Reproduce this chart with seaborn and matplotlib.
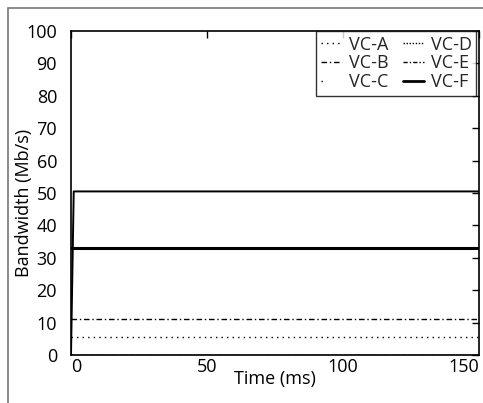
import matplotlib
matplotlib.use("Agg")
import matplotlib.pyplot as plt
from matplotlib.lines import Line2D
from matplotlib.patches import Rectangle
import seaborn as sns
import pandas as pd

# ---- data ----
time_ms = [0, 1, 150]
vc_a = [5.5, 5.5, 5.5]
vc_b = [11, 11, 11]
vc_c = [0, 50.5, 50.5]
vc_d = [0, 0, 0]
vc_e = [0, 0, 0]
vc_f = [33, 33, 33]
series_names = ["VC-A", "VC-B", "VC-C", "VC-D", "VC-E", "VC-F"]
x_ticks = [0, 50, 100, 150]
y_ticks = [0, 10, 20, 30, 40, 50, 60, 70, 80, 90, 100]

sns.set_theme(style="white")
plt.rcParams["font.family"] = ["Open Sans", "DejaVu Sans"]

fig = plt.figure(figsize=(4.83, 4.03), dpi=100)
ax = fig.add_axes([0.147, 0.119, 0.845, 0.804])

values = [vc_a, vc_b, vc_c, vc_d, vc_e, vc_f]
styles = {
    "VC-A": dict(ls=(0, (1, 3)), lw=1.0),
    "VC-B": dict(ls=(0, (4, 2, 1, 2)), lw=1.0),
    "VC-C": dict(ls="-", lw=1.4),
    "VC-D": dict(ls=(0, (1, 1.2)), lw=1.0),
    "VC-E": dict(ls=(0, (3, 1.5, 1, 1.5)), lw=1.0),
    "VC-F": dict(ls="-", lw=2.2),
}
for name, vals in zip(series_names, values):
    df = pd.DataFrame({"t": time_ms, "bw": vals})
    sns.lineplot(data=df, x="t", y="bw", ax=ax, color="black",
                 linestyle=styles[name]["ls"], linewidth=styles[name]["lw"],
                 legend=False)

ax.set_xlim(0, 150)
ax.set_ylim(0, 100)
ax.set_xticks(x_ticks)
ax.set_yticks(y_ticks)
ax.tick_params(direction="in", length=5, width=1.0, color="black",
               top=True, right=True, labelsize=13, labelcolor="black")
ax.tick_params(axis="y", pad=10)
ax.tick_params(axis="x", pad=2)
for s in ax.spines.values():
    s.set_color("black")
    s.set_linewidth(1.2)

xt = ax.get_xticklabels()
xt[0].set_horizontalalignment("left")
xt[-1].set_horizontalalignment("right")

ax.set_xlabel("Time (ms)", fontsize=13, color="black")
ax.set_ylabel("Bandwidth (Mb/s)", fontsize=13, color="black")
ax.xaxis.set_label_coords(0.5, -0.045)
ax.yaxis.set_label_coords(-0.093, 0.47)

# legend handles mimic the reference key
legend_styles = {
    "VC-A": (0, (1, 3)),
    "VC-B": (0, (4, 2, 1, 2)),
    "VC-C": (0, (1, 40)),
    "VC-D": (0, (1, 1.2)),
    "VC-E": (0, (3, 1.5, 1, 1.5)),
    "VC-F": "-",
}
handles = [Line2D([], [], color="black", linestyle=legend_styles[n],
                  linewidth=(2.0 if n == "VC-F" else 1.0)) for n in series_names]
leg = ax.legend(handles, series_names, loc="upper right", ncol=2,
                fontsize=13, frameon=True, fancybox=False, edgecolor="black",
                handlelength=1.2, handletextpad=0.35, columnspacing=0.8,
                labelspacing=0.05, borderpad=0.25, borderaxespad=0.0,
                bbox_to_anchor=(0.993, 1.0))
leg.get_frame().set_linewidth(1.0)

fig.patches.append(Rectangle((8 / 483, -0.01), 1.0, 1 - 8 / 403 + 0.01,
                             transform=fig.transFigure, fill=False,
                             edgecolor="#777777", linewidth=1.2))

fig.savefig("out.png", dpi=100)
